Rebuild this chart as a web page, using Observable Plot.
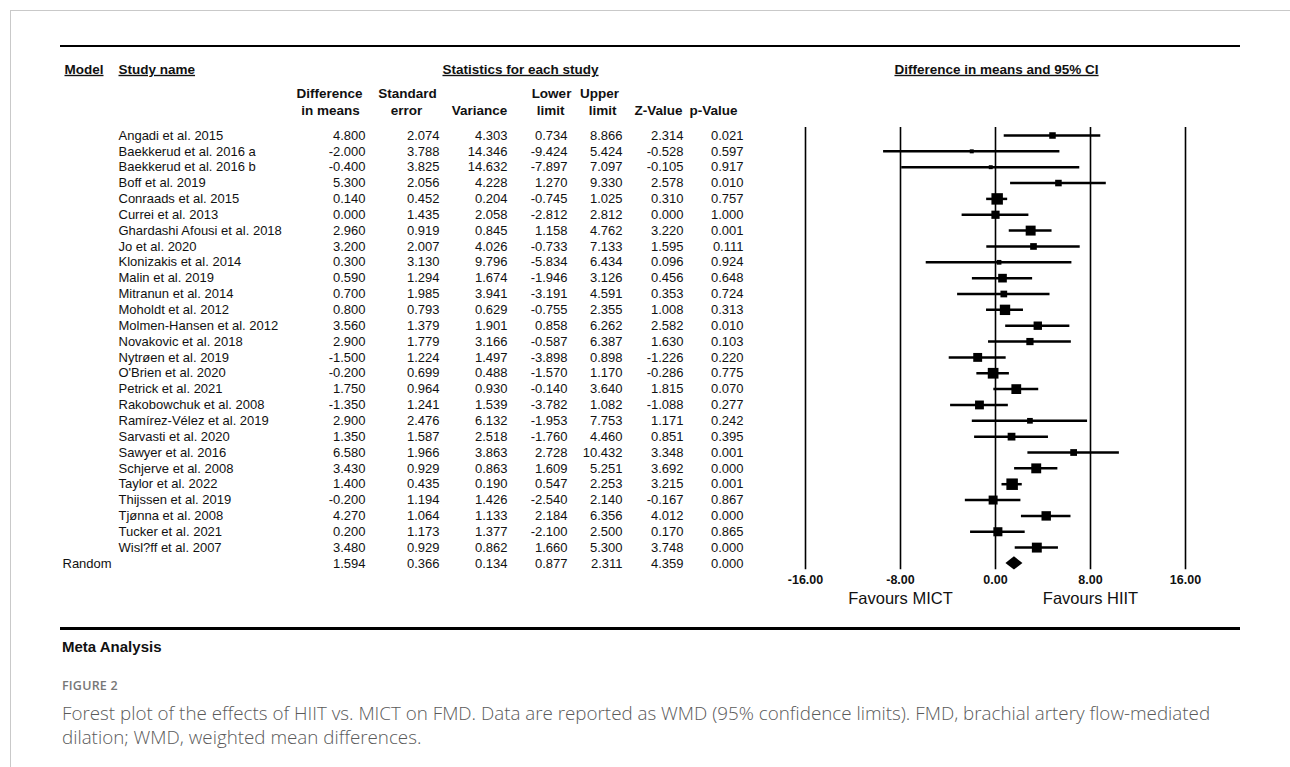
<!DOCTYPE html>
<html>
<head>
<meta charset="utf-8">
<script src="https://cdn.jsdelivr.net/npm/d3@7"></script>
<script src="https://cdn.jsdelivr.net/npm/@observablehq/plot@0.6"></script>
<style>
  html, body { margin: 0; padding: 0; background: #fff; }
  #wrap { position: relative; width: 1290px; height: 767px; overflow: hidden; }
  #frame { position: absolute; left: 10px; top: 10px; width: 1300px; height: 800px; border: 1px solid #c9c9c9; box-sizing: border-box; }
  #chart { position: absolute; left: 0; top: 0; }
  .hline { position: absolute; left: 60px; width: 1180px; background: #000; }
  .txt { position: absolute; left: 62px; white-space: nowrap; }
  #meta { top: 638px; font: bold 15px "Liberation Sans", Arial, sans-serif; color: #111; }
  #fig { top: 677px; font: 600 12.5px "Open Sans", "Noto Sans", sans-serif; color: #777; letter-spacing: 0.2px; }
  #cap { top: 701px; font: 300 18.8px "Open Sans", "Noto Sans", sans-serif; color: #5a5a5a; line-height: 24px; }
</style>
</head>
<body>
<div id="wrap">
  <div id="frame"></div>
  <div id="chart"></div>
  <div class="hline" style="top:45px;height:2px;"></div>
  <div class="hline" style="top:627px;height:2.5px;"></div>
  <div class="txt" id="meta">Meta Analysis</div>
  <div class="txt" id="fig">FIGURE 2</div>
  <div class="txt" id="cap">Forest plot of the effects of HIIT vs. MICT on FMD. Data are reported as WMD (95% confidence limits). FMD, brachial artery flow-mediated<br>dilation; WMD, weighted mean differences.</div>
</div>
<script>
// ---------- data ----------
const studies = [
  "Angadi et al. 2015", "Baekkerud et al. 2016 a", "Baekkerud et al. 2016 b", "Boff et al. 2019",
  "Conraads et al. 2015", "Currei et al. 2013", "Ghardashi Afousi et al. 2018", "Jo et al. 2020",
  "Klonizakis et al. 2014", "Malin et al. 2019", "Mitranun et al. 2014", "Moholdt et al. 2012",
  "Molmen-Hansen et al. 2012", "Novakovic et al. 2018", "Nytrøen et al. 2019", "O'Brien et al. 2020",
  "Petrick et al. 2021", "Rakobowchuk et al. 2008", "Ramírez-Vélez et al. 2019", "Sarvasti et al. 2020",
  "Sawyer et al. 2016", "Schjerve et al. 2008", "Taylor et al. 2022", "Thijssen et al. 2019",
  "Tjønna et al. 2008", "Tucker et al. 2021", "Wisl?ff et al. 2007"
];
const diffInMeans = [4.800, -2.000, -0.400, 5.300, 0.140, 0.000, 2.960, 3.200, 0.300, 0.590, 0.700, 0.800, 3.560, 2.900, -1.500, -0.200, 1.750, -1.350, 2.900, 1.350, 6.580, 3.430, 1.400, -0.200, 4.270, 0.200, 3.480];
const stdError = [2.074, 3.788, 3.825, 2.056, 0.452, 1.435, 0.919, 2.007, 3.130, 1.294, 1.985, 0.793, 1.379, 1.779, 1.224, 0.699, 0.964, 1.241, 2.476, 1.587, 1.966, 0.929, 0.435, 1.194, 1.064, 1.173, 0.929];
const variance = [4.303, 14.346, 14.632, 4.228, 0.204, 2.058, 0.845, 4.026, 9.796, 1.674, 3.941, 0.629, 1.901, 3.166, 1.497, 0.488, 0.930, 1.539, 6.132, 2.518, 3.863, 0.863, 0.190, 1.426, 1.133, 1.377, 0.862];
const lowerLimit = [0.734, -9.424, -7.897, 1.270, -0.745, -2.812, 1.158, -0.733, -5.834, -1.946, -3.191, -0.755, 0.858, -0.587, -3.898, -1.570, -0.140, -3.782, -1.953, -1.760, 2.728, 1.609, 0.547, -2.540, 2.184, -2.100, 1.660];
const upperLimit = [8.866, 5.424, 7.097, 9.330, 1.025, 2.812, 4.762, 7.133, 6.434, 3.126, 4.591, 2.355, 6.262, 6.387, 0.898, 1.170, 3.640, 1.082, 7.753, 4.460, 10.432, 5.251, 2.253, 2.140, 6.356, 2.500, 5.300];
const zValue = [2.314, -0.528, -0.105, 2.578, 0.310, 0.000, 3.220, 1.595, 0.096, 0.456, 0.353, 1.008, 2.582, 1.630, -1.226, -0.286, 1.815, -1.088, 1.171, 0.851, 3.348, 3.692, 3.215, -0.167, 4.012, 0.170, 3.748];
const pValue = [0.021, 0.597, 0.917, 0.010, 0.757, 1.000, 0.001, 0.111, 0.924, 0.648, 0.724, 0.313, 0.010, 0.103, 0.220, 0.775, 0.070, 0.277, 0.242, 0.395, 0.001, 0.000, 0.001, 0.867, 0.000, 0.865, 0.000];
const pooledModel = "Random";
const pooled = [1.594, 0.366, 0.134, 0.877, 2.311, 4.359, 0.000]; // diff, se, var, lower, upper, z, p
const xTicks = [-16, -8, 0, 8, 16];
const favourLabels = ["Favours MICT", "Favours HIIT"];
const favourAt = [-8, 8];

// ---------- derived ----------
const keys = ["diff", "se", "variance", "lower", "upper", "z", "p"];
const rows = studies.map((name, i) => ({
  name, i,
  diff: diffInMeans[i], se: stdError[i], variance: variance[i],
  lower: lowerLimit[i], upper: upperLimit[i], z: zValue[i], p: pValue[i]
}));
const pooledRow = {name: pooledModel, i: studies.length};
keys.forEach((k, j) => pooledRow[k] = pooled[j]);

// random-effects tau^2 consistent with pooled variance (sum of weights = 1/var)
const target = 1 / pooledRow.variance;
let lo = 0, hi = 100;
for (let it = 0; it < 80; it++) {
  const mid = (lo + hi) / 2;
  const s = d3.sum(variance, v => 1 / (v + mid));
  if (s > target) lo = mid; else hi = mid;
}
const tau2 = (lo + hi) / 2;
rows.forEach(d => d.w = 1 / (d.variance + tau2));
const wMax = d3.max(rows, d => d.w);
const maxSide = 11.5;
const sideOf = d => maxSide * Math.sqrt(d.w / wMax);

const fmt3 = v => v.toFixed(3);
const allRows = rows.concat([pooledRow]);

// ---------- layout (styles / positions) ----------
const colRight = {diff: 365, se: 439, variance: 507, lower: 567, upper: 622, z: 683, p: 743};
const fontFam = '"Liberation Sans", Arial, Helvetica, sans-serif';
const nRow = studies.length; // pooled row index
const bodySize = 13;

const hdr = (text, x, y, anchor = "middle", size = 13.5) =>
  Plot.text([text], {text: d => d, frameAnchor: "top-left", dx: x, dy: y, textAnchor: anchor,
    lineAnchor: "middle", fontWeight: "bold", fontSize: size, fill: "#111"});

const marks = [
  // headers
  hdr("Model", 64, 69, "start"),
  hdr("Study name", 118, 69, "start"),
  hdr("Statistics for each study", 520, 69),
  hdr("Difference in means and 95% CI", 996, 69),
  hdr("Difference", 329, 93), hdr("in means", 330, 110),
  hdr("Standard", 407, 93), hdr("error", 406, 110),
  hdr("Variance", 479, 110),
  hdr("Lower", 551, 93), hdr("limit", 550, 110),
  hdr("Upper", 599, 93), hdr("limit", 602, 110),
  hdr("Z-Value", 658, 110),
  hdr("p-Value", 713, 110),
  // grid lines of forest plot
  Plot.ruleX(xTicks, {x: d => d, y1: -0.5, y2: nRow + 0.4, stroke: "#000", strokeWidth: 1.6}),
  // study names
  Plot.text(rows, {y: "i", text: "name", frameAnchor: "left", dx: 118, textAnchor: "start", fontSize: bodySize, fill: "#111"}),
  Plot.text([pooledRow], {y: "i", text: "name", frameAnchor: "left", dx: 62, textAnchor: "start", fontSize: bodySize, fill: "#111"}),
  // numeric columns
  ...keys.map(k => Plot.text(allRows, {y: "i", text: d => fmt3(d[k]), frameAnchor: "left", dx: colRight[k], textAnchor: "end", fontSize: bodySize, fill: "#111"})),
  // CI lines
  Plot.ruleY(rows, {y: "i", x1: "lower", x2: "upper", stroke: "#000", strokeWidth: 2.5}),
  // effect squares
  Plot.dot(rows, {x: "diff", y: "i", symbol: "square", r: d => sideOf(d) / Math.sqrt(Math.PI), fill: "#000", stroke: "none"}),
  // pooled diamond
  Plot.areaY([
    {x: pooledRow.lower, y1: nRow, y2: nRow},
    {x: pooledRow.diff, y1: nRow - 0.42, y2: nRow + 0.42},
    {x: pooledRow.upper, y1: nRow, y2: nRow}
  ], {x: "x", y1: "y1", y2: "y2", fill: "#000", curve: "linear"}),
  // tick labels
  Plot.text(xTicks, {x: d => d, y: nRow + 0.4, dy: 10, text: d => d.toFixed(2), fontWeight: "bold", fontSize: 12.5, fill: "#111"}),
  Plot.text(favourLabels, {x: (d, i) => favourAt[i], y: nRow + 0.4, dy: 29, text: d => d, fontSize: 16.5, fill: "#111"})
];

const chart = Plot.plot({
  width: 1290,
  height: 640,
  margin: 0,
  style: {fontFamily: fontFam, background: "transparent", overflow: "visible"},
  x: {domain: [-16, 16], range: [805, 1185], axis: null},
  y: {domain: [0, nRow], range: [135, 135 + nRow * 15.85], axis: null},
  r: {type: "identity"},
  marks
});

const underlined = new Set(["Model", "Study name", "Statistics for each study", "Difference in means and 95% CI"]);
d3.select(chart).selectAll("text")
  .filter(function() { return underlined.has(this.textContent); })
  .style("text-decoration", "underline")
  .style("text-decoration-thickness", "2px")
  .style("text-underline-offset", "2px");

document.getElementById("chart").appendChild(chart);
</script>
</body>
</html>
